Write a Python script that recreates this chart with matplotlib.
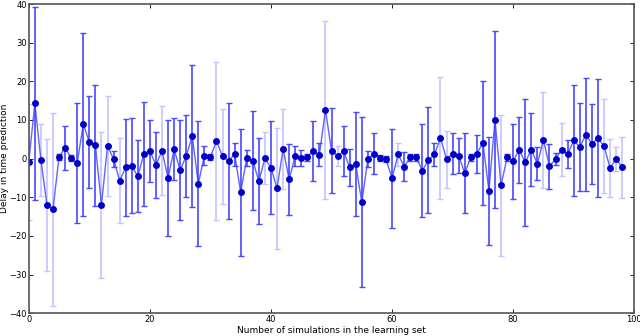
import numpy as np
import matplotlib.pyplot as plt

# valores
n_sim = np.arange(0, 99)
delay = [-0.8, 14.3, -0.4, -12.0, -13.1, 0.5, 2.8, 0.2, -1.1, 8.9,
         4.3, 3.4, -12.0, 3.3, -0.1, -5.7, -2.3, -1.9, -4.6, 1.2,
         2.0, -1.7, 2.0, -5.0, 2.4, -3.0, 0.7, 5.8, -6.5, 0.8,
         0.4, 4.6, 0.6, -0.6, 1.1, -8.7, 0.1, -0.5, -5.9, 0.1,
         -2.4, -7.7, 2.5, -5.4, 0.7, 0.1, 0.3, 2.0, 1.0, 12.6,
         2.0, 0.7, 1.9, -2.3, -1.4, -11.3, -0.2, 1.3, 0.1, -0.2,
         -5.1, 1.1, -2.1, 0.3, 0.3, -3.1, -0.4, 1.1, 5.3, -0.2,
         1.3, 0.8, -3.8, 0.3, 1.2, 4.1, -8.3, 10.1, -6.9, 0.3,
         -0.7, 2.3, -1.0, 2.3, -1.3, 4.8, -2.0, -0.1, 2.3, 1.1,
         4.7, 3.0, 6.2, 3.8, 5.3, 3.3, -2.4, -0.05, -2.2]
error = [15.0, 25.0, 9.3, 17.0, 25.0, 0.8, 5.7, 0.8, 15.5, 23.7,
         12.0, 15.6, 19.0, 13.0, 2.0, 11.0, 12.5, 12.3, 9.3, 13.5,
         8.0, 8.6, 11.5, 15.0, 8.0, 12.9, 10.7, 18.4, 16.2, 2.4,
         0.8, 20.5, 12.3, 15.0, 3.0, 16.4, 2.0, 12.9, 11.1, 6.7,
         12.0, 15.6, 10.4, 9.3, 2.5, 2.0, 0.8, 7.8, 3.0, 23.0,
         11.0, 2.5, 6.5, 4.9, 13.4, 22.0, 2.1, 5.2, 0.8, 0.8,
         12.8, 3.0, 3.8, 0.8, 0.8, 12.0, 13.8, 2.9, 15.7, 7.4,
         5.2, 4.6, 10.3, 0.8, 4.9, 16.0, 14.0, 23.0, 18.2, 0.8,
         9.7, 8.5, 16.4, 9.5, 4.2, 12.5, 5.8, 1.5, 6.9, 3.6,
         14.3, 11.4, 14.7, 10.4, 15.3, 12.2, 7.5, 3.1, 7.9]
# barras claras (1) u oscuras (0)
claro = [1, 0, 1, 1, 1, 0, 0, 0, 0, 0,
         0, 0, 1, 1, 0, 1, 0, 0, 0, 0,
         0, 0, 1, 0, 0, 0, 0, 0, 0, 0,
         0, 1, 1, 0, 0, 0, 0, 0, 0, 1,
         0, 1, 1, 0, 0, 0, 0, 0, 0, 1,
         0, 1, 0, 0, 0, 0, 0, 0, 0, 0,
         0, 1, 0, 0, 0, 0, 0, 0, 1, 1,
         0, 0, 0, 0, 0, 0, 0, 0, 1, 0,
         0, 0, 0, 0, 0, 1, 0, 0, 1, 0,
         0, 0, 0, 0, 0, 1, 1, 1, 1]

x = np.array(n_sim)
y = np.array(delay)
e = np.array(error)
c = np.array(claro, dtype=bool)

fig = plt.figure(figsize=(6.4, 3.36), dpi=100)
ax = fig.add_axes([0.045, 0.068, 0.946, 0.92])

ax.errorbar(x[c], y[c], yerr=e[c], fmt='none', ecolor='#c4c4ff',
            elinewidth=1.2, capsize=2, capthick=1)
ax.errorbar(x[~c], y[~c], yerr=e[~c], fmt='none', ecolor='#4848ff',
            elinewidth=1.2, capsize=2, capthick=1)
ax.plot(x, y, '-', color='#3c3cff', lw=1.0, alpha=0.8)
ax.plot(x, y, 'o', color='#0000c8', markersize=5, markeredgewidth=0)

ax.set_xlim(0, 100)
ax.set_ylim(-40, 40)
ax.set_xticks([0, 20, 40, 60, 80, 100])
ax.set_yticks(np.arange(-40, 41, 10))
ax.tick_params(direction='in', top=True, right=True, labelsize=6,
               length=3, width=0.6, pad=1.5)
for s in ax.spines.values():
    s.set_color('#555555')
    s.set_linewidth(1.2)

ax.set_xlabel('Number of simulations in the learning set', fontsize=6.5, labelpad=1)
ax.set_ylabel('Delay in time prediction', fontsize=6.5, labelpad=0)

fig.savefig('out.png', dpi=100)
